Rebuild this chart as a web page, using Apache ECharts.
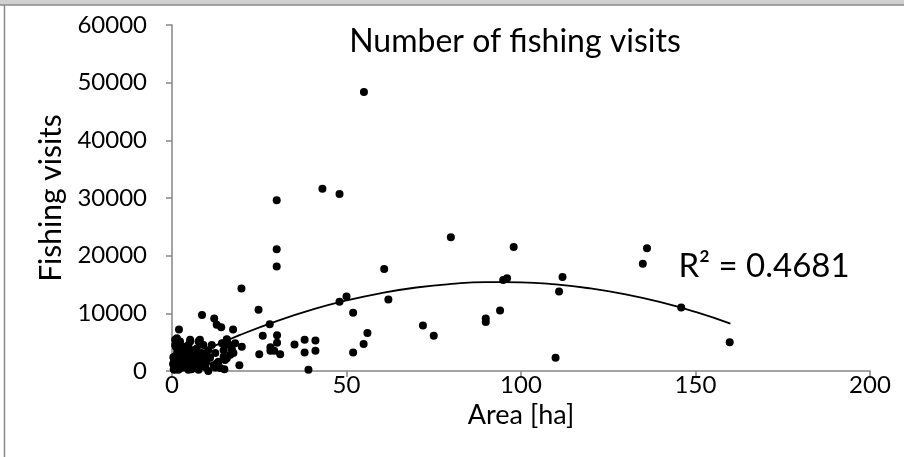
<!DOCTYPE html>
<html>
<head>
<meta charset="utf-8">
<script src="https://cdn.jsdelivr.net/npm/echarts@6/dist/echarts.min.js"></script>
<style>
  html, body { margin: 0; padding: 0; background: #fff; }
  #chart { width: 904px; height: 457px; }
</style>
</head>
<body>
<div id="chart"></div>
<script>
// Lake area (ha) and number of fishing visits per lake
const area = [
  55, 43.1, 48, 79.9, 97.9, 60.8, 48, 50, 62, 51.9, 56, 54.9, 51.9, 71.9, 75,
  89.9, 89.9, 94, 94.9, 96, 111.9, 110.9, 109.9, 136.1, 134.9, 145.9, 159.8,
  30, 30, 30, 19.9, 24.8, 8.6, 12.1, 14.1, 17.5, 2,
  28, 26, 30.1, 30.1, 28.2, 29.3, 28.2, 31, 35.1, 38, 41.1, 38, 41.1, 39.1,
  25, 19.3, 15, 15.7, 18.1, 20, 17.1, 17.6, 16.7, 15.7, 15.2, 15.2,
  1.4, 0.9, 5.2, 7.6, 9, 10.4, 11.4, 12.4, 13.3, 13.8, 11.9, 9.5, 7.6, 6.1,
  3.7, 2.8, 1.4, 1.8, 4.7, 7.6, 10.4, 6.6, 3.7, 5.2, 1.8, 0.9, 0.7, 8.5,
  9.5, 7.1, 4.7, 3.2, 2.3, 5.7, 12.8, 0.9, 8, 5.2, 3.7, 15.7, 16.2, 14.8,
  17.1, 14.8, 12.8, 12.4, 14.3, 2.5, 3.3, 4.2, 1.2, 0.5, 6.4, 8.8, 10.9,
  2.1, 3.9, 5.6, 1.6, 4.4, 7.3, 0.3, 2.9, 6.9, 9.9,
  0.6, 1.0, 1.5, 2.0, 2.4, 3.0, 3.5, 4.0, 4.5, 5.0, 5.5, 6.0, 6.5, 7.0, 7.5,
  8.0, 8.5, 9.0, 1.1, 2.6, 3.4, 4.8, 5.9, 6.8, 7.8, 0.4, 1.9, 3.1, 4.1, 5.3
];
const visits = [
  48400, 31600, 30700, 23200, 21500, 17700, 12000, 12900, 12400, 10100, 6600, 4700, 3200, 7900, 6100,
  9100, 8500, 10500, 15800, 16100, 16300, 13800, 2300, 21300, 18600, 11000, 5000,
  29600, 21100, 18100, 14300, 10600, 9700, 9100, 7600, 7200, 7200,
  8100, 6100, 6200, 4900, 4100, 3500, 3500, 2900, 4600, 5400, 5300, 3200, 3500, 200,
  2900, 1000, 300, 5500, 4800, 4200, 3900, 3100, 2800, 2200, 1900, 4500,
  5700, 4500, 5400, 5100, 4500, 3600, 4500, 3100, 1600, 500, 1000, 700, 1900, 3100,
  3300, 1900, 700, 200, 200, 200, 0, 700, 1300, 2200, 3100, 2200, 200, 3100,
  2500, 3900, 4500, 4200, 5100, 3600, 8000, 5400, 5400, 5100, 4200, 5400, 4600, 3600,
  3600, 2500, 1300, 600, 4800, 2600, 1200, 800, 1500, 300, 2800, 1100, 2300,
  400, 600, 300, 900, 1700, 500, 1200, 3800, 1400, 1600,
  1800, 2600, 3400, 1300, 2900, 600, 3700, 2400, 1600, 900, 2700, 1800, 3300, 1500, 2900,
  800, 1300, 1900, 4200, 3800, 2000, 2900, 1100, 2400, 1700, 2400, 1400, 2600, 3300, 2000
];

// Polynomial (order 2) trend curve, sampled along the area axis
const trendArea = [0, 10, 20, 30, 40, 50, 60, 70, 80, 90, 100, 110, 120, 130, 140, 150, 160];
const trendVisits = [800, 3760, 6370, 8660, 10610, 12230, 13520, 14480, 15100, 15400, 15370, 15010, 14310, 13290, 11930, 10240, 8220];

const titleText = 'Number of fishing visits';
const r2Text = 'R\u00B2 = 0.4681';
const xName = 'Area [ha]';
const yName = 'Fishing visits';

const FONT = 'Lato, "Open Sans", sans-serif';

const points = area.map((a, i) => [a, visits[i]]);
const trend = trendArea.map((a, i) => [a, trendVisits[i]]);

const chart = echarts.init(document.getElementById('chart'), null, { renderer: 'canvas' });
chart.setOption({
  backgroundColor: '#ffffff',
  animation: false,
  grid: { left: 172, right: 34, top: 25, bottom: 86, containLabel: false },
  xAxis: {
    type: 'value', min: 0, max: 200, interval: 50,
    name: xName, nameLocation: 'middle', nameGap: 21,
    nameTextStyle: { fontFamily: FONT, fontSize: 27, color: '#000' },
    axisLine: { show: true, lineStyle: { color: '#868686', width: 1.5 } },
    axisTick: { show: true, inside: false, length: 6, lineStyle: { color: '#868686', width: 1.5 } },
    axisLabel: { margin: 2, fontFamily: FONT, fontSize: 24, color: '#000', formatter: v => String(v) },
    splitLine: { show: false }
  },
  yAxis: {
    type: 'value', min: 0, max: 60000, interval: 10000,
    name: yName, nameLocation: 'middle', nameGap: 103, nameRotate: 90,
    nameTextStyle: { fontFamily: FONT, fontSize: 30, color: '#000' },
    axisLine: { show: true, lineStyle: { color: '#868686', width: 1.5 } },
    axisTick: { show: true, inside: false, length: 6, lineStyle: { color: '#868686', width: 1.5 } },
    axisLabel: { margin: 25, fontFamily: FONT, fontSize: 24, color: '#000', formatter: v => String(v) },
    splitLine: { show: false }
  },
  series: [
    {
      type: 'line', data: trend, smooth: true, showSymbol: false, symbol: 'none',
      lineStyle: { color: '#000', width: 1.8 }, z: 3, silent: true
    },
    {
      type: 'scatter', data: points, symbol: 'circle', symbolSize: 8,
      itemStyle: { color: '#000', opacity: 1 }, z: 4
    }
  ],
  graphic: [
    { type: 'rect', shape: { x: 0, y: 0, width: 904, height: 5 }, style: { fill: '#d0d0d0' }, z: 100 },
    { type: 'line', shape: { x1: 0, y1: 5, x2: 904, y2: 5 }, style: { stroke: '#8a8a8a', lineWidth: 1.5 }, z: 100 },
    { type: 'line', shape: { x1: 4.5, y1: 5, x2: 4.5, y2: 457 }, style: { stroke: '#8a8a8a', lineWidth: 1.5 }, z: 100 },
    {
      type: 'text', x: 515, y: 42, z: 100,
      style: { text: titleText, font: '32px ' + FONT, fill: '#000', textAlign: 'center', textVerticalAlign: 'middle' }
    },
    {
      type: 'text', x: 764, y: 266, z: 100,
      style: { text: r2Text, font: '33px ' + FONT, fill: '#000', textAlign: 'center', textVerticalAlign: 'middle' }
    }
  ]
});
</script>
</body>
</html>
